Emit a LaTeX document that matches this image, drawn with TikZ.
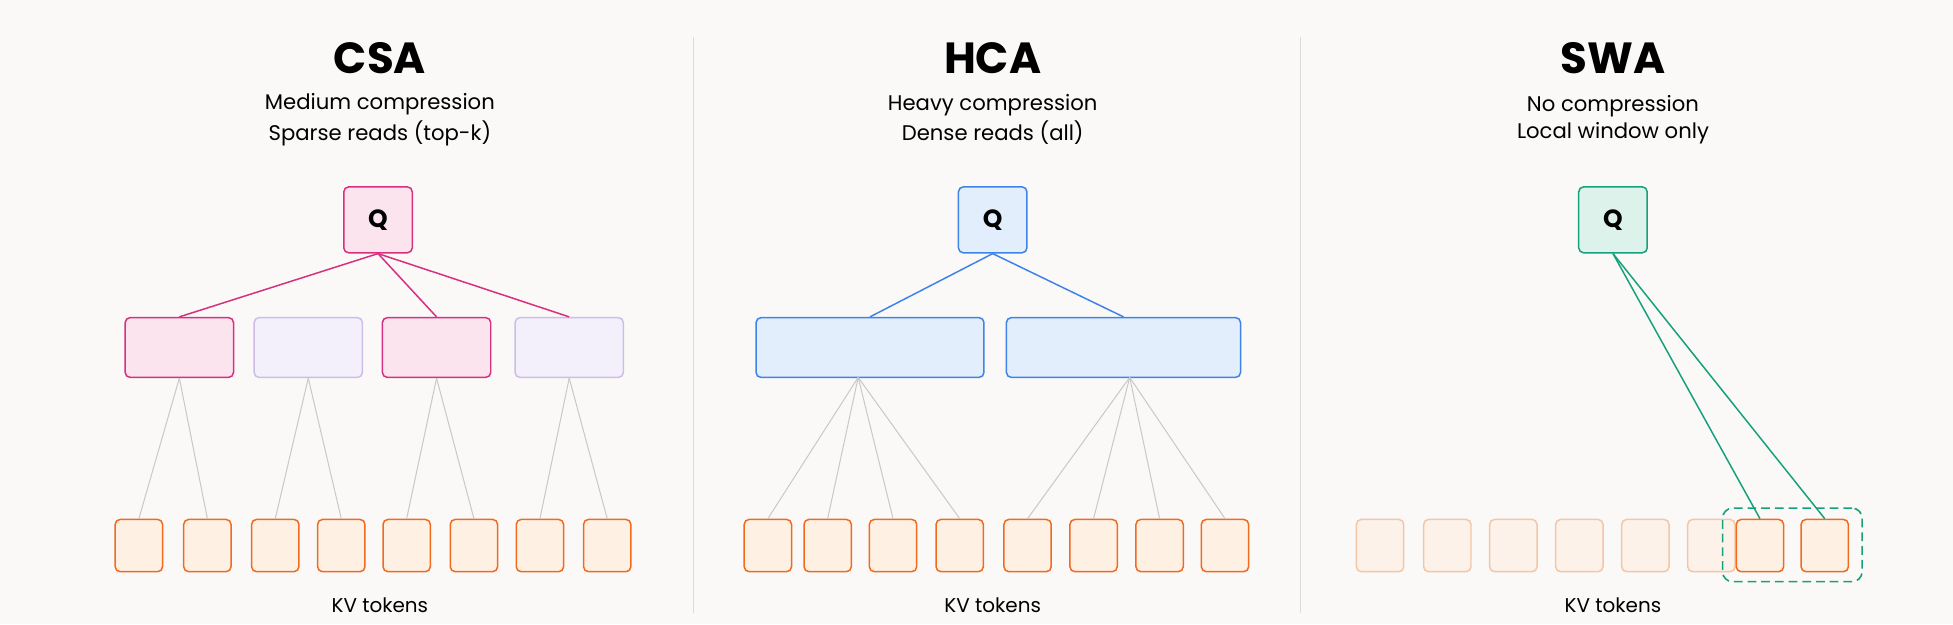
\documentclass[tikz,border=0pt]{standalone}
\usepackage{fontspec}
\setmainfont{Poppins}
\begin{document}
\definecolor{bg}{HTML}{FAF9F8}
\definecolor{pinkS}{HTML}{D6307E}\definecolor{pinkF}{HTML}{FCE4EE}
\definecolor{lavS}{HTML}{CDBDE8}\definecolor{lavF}{HTML}{F4F0FB}
\definecolor{bluS}{HTML}{3F83E8}\definecolor{bluF}{HTML}{E3EEFC}
\definecolor{grnS}{HTML}{16A07C}\definecolor{grnF}{HTML}{DDF2EA}
\definecolor{orS}{HTML}{F06A1F}\definecolor{orF}{HTML}{FFF0E4}
\definecolor{foS}{HTML}{F4C6A6}\definecolor{foF}{HTML}{FDF2EA}
\definecolor{divc}{HTML}{DDDBD9}\definecolor{thin}{HTML}{C8C8C8}
\begin{tikzpicture}[x=1pt,y=-1pt,
  box/.style={draw,rounded corners=4pt,line width=1.2pt,inner sep=0pt},
  q/.style={box,minimum width=55pt,minimum height=53pt,font=\fontsize{20}{20}\selectfont\bfseries},
  mid/.style={box,minimum width=87pt,minimum height=48pt},
  tok/.style={box,draw=orS,fill=orF,minimum width=38pt,minimum height=42pt},
  ftok/.style={box,draw=foS,fill=foF,minimum width=38pt,minimum height=42pt},
  title/.style={font=\fontsize{35}{35}\selectfont\bfseries},
  sub/.style={font=\fontsize{17}{17}\selectfont,align=center},
  kv/.style={font=\fontsize{16}{16}\selectfont},
  gl/.style={draw=thin,line width=0.8pt}]
\fill[bg] (0,0) rectangle (1568,501);
\useasboundingbox (0,0) rectangle (1568,501);
\draw[divc,line width=1pt] (557,30) -- (557,492);
\draw[divc,line width=1pt] (1044,30) -- (1044,492);
% titles
\node[title] (t1) at (305,47) {CSA};
\node[title] (t2) at (797,47) {HCA};
\node[title] (t3) at (1295,47) {SWA};
\node[sub] (s1) at (305,96) {Medium compression\\[3pt]Sparse reads (top-k)};
\node[sub] (s2) at (797,96) {Heavy compression\\[3pt]Dense reads (all)};
\node[sub] (s3) at (1295,96) {No compression\\[3pt]Local window only};
\node[kv] (k1) at (305,486) {KV tokens};
\node[kv] (k2) at (797,486) {KV tokens};
\node[kv] (k3) at (1295,486) {KV tokens};
% CSA
\node[q,draw=pinkS,fill=pinkF] (qa) at (303.5,176.5) {Q};
\node[mid,draw=pinkS,fill=pinkF] (a1) at (144,279) {};
\node[mid,draw=lavS,fill=lavF] (a2) at (247.5,279) {};
\node[mid,draw=pinkS,fill=pinkF] (a3) at (350.5,279) {};
\node[mid,draw=lavS,fill=lavF] (a4) at (457,279) {};
\foreach \i/\x in {1/111.5,2/166.5,3/221,4/274,5/326.5,6/380.5,7/433.5,8/487.5}
  \node[tok] (at\i) at (\x,438) {};
\foreach \m/\a/\b in {a1/at1/at2,a2/at3/at4,a3/at5/at6,a4/at7/at8}{
  \draw[gl] (\m.south) -- (\a.north);
  \draw[gl] (\m.south) -- (\b.north);}
\foreach \m in {a1,a3,a4} \draw[pinkS,line width=1.2pt] (qa.south) -- (\m.north);
% HCA
\node[q,draw=bluS,fill=bluF] (qb) at (797,176.5) {Q};
\node[mid,draw=bluS,fill=bluF,minimum width=183pt] (b1) at (698.5,279) {};
\node[mid,draw=bluS,fill=bluF,minimum width=188pt] (b2) at (902,279) {};
\foreach \i/\x in {1/616.5,2/664.5,3/717,4/770.5,5/825,6/878,7/931,8/983.5}
  \node[tok] (bt\i) at (\x,438) {};
\coordinate (bo1) at (689,303);
\coordinate (bo2) at (907,303);
\foreach \t in {bt1,bt2,bt3,bt4} \draw[gl] (bo1) -- (\t.north);
\foreach \t in {bt5,bt6,bt7,bt8} \draw[gl] (bo2) -- (\t.north);
\draw[bluS,line width=1.2pt] (qb.south) -- (b1.north);
\draw[bluS,line width=1.2pt] (qb.south) -- (b2.north);
% SWA
\node[q,draw=grnS,fill=grnF] (qc) at (1295,176.5) {Q};
\foreach \i/\x in {1/1108,2/1162,3/1215,4/1268,5/1321,6/1374}
  \node[ftok] (ct\i) at (\x,438) {};
\node[tok] (ct7) at (1413,438) {};
\node[tok] (ct8) at (1465,438) {};
\node[draw=grnS,dashed,dash pattern=on 7pt off 4pt,line width=1.3pt,rounded corners=8pt,minimum width=112pt,minimum height=59pt,inner sep=0pt] (win) at (1439,437.5) {};
\draw[grnS,line width=1.2pt] (qc.south) -- (ct7.north);
\draw[grnS,line width=1.2pt] (qc.south) -- (ct8.north);
\end{tikzpicture}
\end{document}
